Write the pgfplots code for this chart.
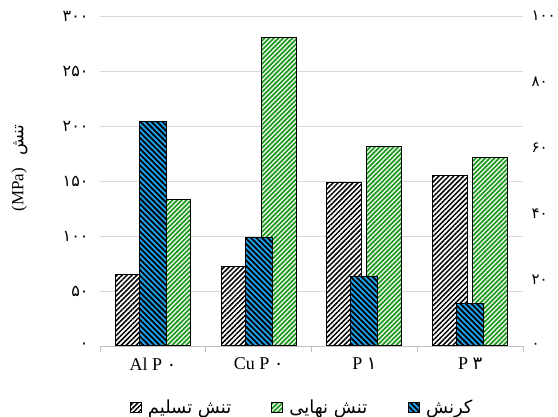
\documentclass[border=0pt]{standalone}
\usepackage{fontspec}
\setmainfont{Liberation Serif}
\newfontfamily\fa[Script=Arabic]{DejaVu Sans}
\TeXXeTstate=1
\usepackage{pgfplots}
\pgfplotsset{compat=1.18}
\usetikzlibrary{patterns.meta}
\definecolor{barblue}{HTML}{1FA2EE}
\definecolor{bargreen}{HTML}{1E9A1E}
\definecolor{gridgray}{HTML}{D9D9D9}
\definecolor{axgray}{HTML}{BFBFBF}
\begin{document}
\begin{tikzpicture}
\path[use as bounding box] (0,0) rectangle (558pt,417pt);
\begin{axis}[
  at={(100pt,71pt)}, anchor=south west,
  scale only axis, width=423pt, height=330pt,
  xmin=-0.5, xmax=3.5, ymin=0, ymax=300,
  axis x line*=bottom, axis y line*=left,
  x axis line style={axgray, line width=0.8pt},
  y axis line style={draw=none},
  xtick={0,1,2,3},
  xticklabels={Al P\ {\fa ۰}, Cu P\ {\fa ۰}, P\ {\fa ۱}, P\ {\fa ۳}},
  major x tick style={draw=none},
  minor xtick={-0.5,0.5,1.5,2.5,3.5},
  minor x tick style={axgray, line width=0.8pt},
  tick align=outside, minor tick length=6pt, major tick length=6pt,
  xticklabel style={font=\fontsize{18}{20}\selectfont, yshift=-2pt},
  ytick={0,50,100,150,200,250,300},
  yticklabels={۰,۵۰,۱۰۰,۱۵۰,۲۰۰,۲۵۰,۳۰۰},
  ytick style={draw=none},
  yticklabel style={font=\fa\fontsize{16}{18}\selectfont, anchor=east, xshift=-2pt},
  ymajorgrids, grid style={gridgray, line width=0.8pt},
  ylabel={{\fontsize{17}{19}\selectfont (MPa)}\hspace{12pt}{\fa\fontsize{17}{19}\selectfont\beginR تنش\endR}},
  ylabel style={at={(axis description cs:-0.19,0.54)}, anchor=center},
  legend style={at={(axis description cs:0.478,-0.185)}, anchor=center, draw=none, fill=none,
    legend columns=3, font=\fa\fontsize{18}{20}\selectfont,
    /tikz/every odd column/.append style={column sep=4pt},
    /tikz/every even column/.append style={column sep=38pt}},
  legend image code/.code={\draw[#1] (0pt,-5pt) rectangle (11pt,5pt);},
]
\addplot[ybar, bar width=35pt, bar shift=-20pt, draw=black, line width=1pt, fill=white,
  postaction={pattern={Lines[angle=45,distance=3.5pt,line width=1.5pt]}, pattern color=black}]
  coordinates {(0,65) (1,72) (2,149) (3,155)};
\addlegendentry{\beginR تنش تسلیم\endR}
\addplot[ybar, bar width=35pt, bar shift=20pt, draw=black, line width=1pt, fill=bargreen,
  postaction={pattern={Lines[angle=45,distance=3.3pt,line width=1.2pt]}, pattern color=white}]
  coordinates {(0,133.5) (1,280) (2,181) (3,171)};
\addlegendentry{\beginR تنش نهایی\endR}
\addlegendimage{draw=black, line width=1pt, fill=barblue,
  postaction={pattern={Lines[angle=-45,distance=3.9pt,line width=1.8pt]}, pattern color=black}}
\addlegendentry{\beginR کرنش\endR}
\end{axis}
\begin{axis}[
  at={(100pt,71pt)}, anchor=south west,
  scale only axis, width=423pt, height=330pt,
  xmin=-0.5, xmax=3.5, ymin=0, ymax=100,
  hide x axis, axis y line*=right,
  y axis line style={draw=none},
  ytick={0,20,40,60,80,100},
  yticklabels={۰,۲۰,۴۰,۶۰,۸۰,۱۰۰},
  ytick style={draw=none},
  yticklabel style={font=\fa\fontsize{15}{17}\selectfont, anchor=west, xshift=5pt},
]
\addplot[ybar, bar width=27pt, bar shift=0pt, draw=black, line width=1pt, fill=barblue,
  postaction={pattern={Lines[angle=-45,distance=3.9pt,line width=1.8pt]}, pattern color=black}]
  coordinates {(0,68) (1,33) (2,21) (3,13)};
\end{axis}
\end{tikzpicture}
\end{document}
